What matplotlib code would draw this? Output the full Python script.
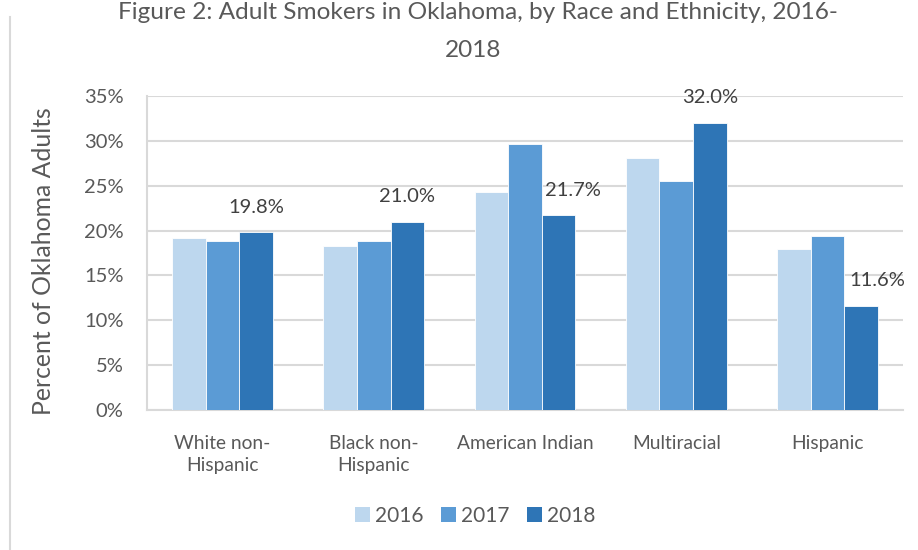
"""Grouped bar chart: adult smokers in Oklahoma by race and ethnicity, 2016-2018."""

import numpy as np
import matplotlib
matplotlib.use("Agg")
import matplotlib.pyplot as plt
from matplotlib.lines import Line2D
from matplotlib.patches import Patch

groups = ["White non-\nHispanic", "Black non-\nHispanic", "American Indian", "Multiracial", "Hispanic"]
years = ["2016", "2017", "2018"]
rate_2016 = [19.2, 18.3, 24.3, 28.1, 17.9]
rate_2017 = [18.8, 18.8, 29.6, 25.5, 19.4]
rate_2018 = [19.8, 21.0, 21.7, 32.0, 11.6]
yticks = [0, 5, 10, 15, 20, 25, 30, 35]

colors = ["#BDD7EE", "#5B9BD5", "#2E75B6"]
text_color = "#595959"
grid_color = "#D9D9D9"
# horizontal nudges (px) for the 2018 value labels
label_dx = [0, 0, 14, 0, 16]

plt.rcParams["font.family"] = ["Lato", "DejaVu Sans"]

fig = plt.figure(figsize=(9.18, 5.5), dpi=100)
ax = fig.add_axes([147 / 918, 140 / 550, 756 / 918, 314 / 550])

x = np.arange(len(groups))
width = 0.222
series = [rate_2016, rate_2017, rate_2018]
for i, (vals, col) in enumerate(zip(series, colors)):
    ax.bar(x + (i - 1) * width, vals, width, color=col, edgecolor="white",
           linewidth=0.6, zorder=3, label=years[i])

for xi, v, dx in zip(x, rate_2018, label_dx):
    ax.annotate(f"{v:.1f}%", (xi + width, v), xytext=(dx, 25),
                textcoords="offset pixels", ha="center", va="center",
                fontsize=14.5, color="#404040")

ax.set_xlim(-0.5, len(groups) - 0.5)
ax.set_ylim(0, 35)
ax.set_yticks(yticks)
ax.set_yticklabels([f"{t}%" for t in yticks])
ax.set_xticks(x)
ax.set_xticklabels(groups, linespacing=1.35)
ax.tick_params(axis="both", length=0, colors=text_color, labelsize=14.5)
ax.tick_params(axis="x", pad=18, labelsize=13.8)
ax.tick_params(axis="y", pad=17)
ax.grid(axis="y", color=grid_color, linewidth=1.5, zorder=0)
for side in ["top", "right"]:
    ax.spines[side].set_visible(False)
for side in ["left", "bottom"]:
    ax.spines[side].set_color(grid_color)
    ax.spines[side].set_linewidth(1.5)

ax.set_ylabel("Percent of Oklahoma Adults", fontsize=17.8, color=text_color)
ax.yaxis.set_label_coords(-0.122, 0.4745)

# title sits right at the top edge, so its first line is cut off a little
fig.text(478 / 918, 1 - 19 / 550, "Figure 2: Adult Smokers in Oklahoma, by Race and Ethnicity, 2016-",
         ha="center", va="baseline", fontsize=17.6, color=text_color)
fig.text(473 / 918, 1 - 57 / 550, "2018",
         ha="center", va="baseline", fontsize=17.6, color=text_color)

# frame edge of the chart area on the left
fig.add_artist(Line2D([9.5 / 918, 9.5 / 918], [0, 1 - 17 / 550], color=grid_color, linewidth=1.5))

handles = [Patch(facecolor=c, edgecolor="none") for c in colors]
fig.legend(handles, years, loc="center", bbox_to_anchor=(475 / 918, 1 - 516 / 550), ncol=3,
           frameon=False, fontsize=15, labelcolor=text_color, handlelength=0.7, handleheight=0.7,
           handletextpad=0.25, columnspacing=0.85)

fig.savefig("out.png", dpi=100)
